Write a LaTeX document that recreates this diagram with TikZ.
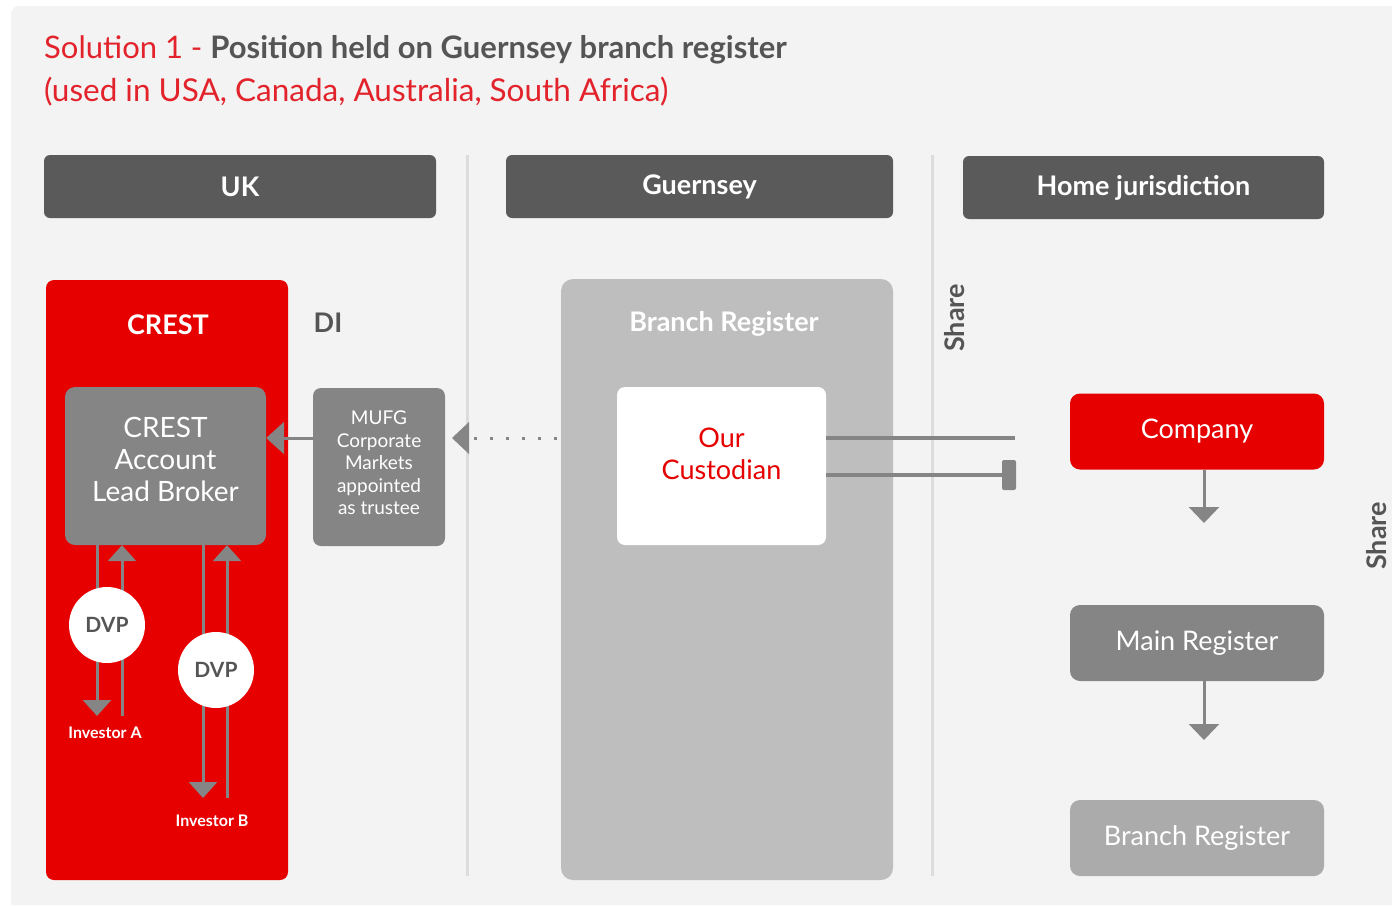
\documentclass[tikz,border=0pt]{standalone}
\usepackage{fontspec}
\setmainfont{Lato}
\usetikzlibrary{arrows.meta}
\definecolor{bgGray}{HTML}{F3F3F3}
\definecolor{sepGray}{HTML}{DCDCDC}
\definecolor{headGray}{HTML}{5A5A5A}
\definecolor{midGray}{HTML}{858585}
\definecolor{lightGray}{HTML}{BEBEBE}
\definecolor{lowGray}{HTML}{ABABAB}
\definecolor{crestRed}{HTML}{E60000}
\definecolor{titleRed}{HTML}{E3232B}
\definecolor{titleGray}{HTML}{555555}
\newcommand{\fs}[2]{\fontsize{#1pt}{#2pt}\selectfont}
\tikzset{
  headbox/.style={fill=headGray, rounded corners=6pt, text=white, font=\fs{27}{32}\bfseries},
  greybox/.style={fill=midGray, rounded corners=10pt, text=white, align=center},
  regbox/.style={rounded corners=10pt, text=white, minimum width=254pt, minimum height=76pt, font=\fs{27}{32}},
  dvpnode/.style={circle, fill=white, minimum size=76pt, inner sep=0pt, text=titleGray, font=\fs{21}{24}\bfseries},
  flowarrow/.style={draw=midGray, line width=3pt, -{Triangle[width=30pt,length=16pt]}, midGray},
  seprule/.style={draw=sepGray, line width=3pt},
  sharelabel/.style={rotate=90, text=titleGray, font=\fs{27}{32}\bfseries}
}
\begin{document}
\begin{tikzpicture}[x=1pt,y=-1pt]
\useasboundingbox (0,0) rectangle (1392,905);
% background
\fill[bgGray] (11,905) -- (11,14) arc (180:270:8) -- (1392,6) -- (1392,905) -- cycle;

% title
\node[anchor=base west, inner sep=0pt] (title) at (44,58) {\fs{31}{36}\color{titleRed}Solution 1 - \color{titleGray}\bfseries Position held on Guernsey branch register};
\node[anchor=base west, inner sep=0pt] (subtitle) at (44,101) {\fs{31.5}{36}\color{titleRed}(used in USA, Canada, Australia, South Africa)};

% column headers
\node[headbox, minimum width=392pt, minimum height=63pt] (uk) at (240,186.5) {UK};
\node[headbox, minimum width=387pt, minimum height=63pt] (guernsey) at (699.5,186.5) {Guernsey};
\node[headbox, minimum width=361pt, minimum height=63pt] (home) at (1143.5,187.5) {Home jurisdiction};

% separators
\draw[seprule] (467,155) -- (467,876);
\draw[seprule] (932,155) -- (932,876);

% UK column
\node[fill=crestRed, rounded corners=8pt, minimum width=242pt, minimum height=600pt] (crest) at (167,580) {};
\node[text=white, font=\fs{27}{32}\bfseries] (crestlabel) at (168,325) {CREST};
\node[text=titleGray, font=\fs{27}{32}\bfseries] (dilabel) at (328,323) {DI};
\node[greybox, minimum width=201pt, minimum height=158pt, text depth=14pt, font=\fs{28}{32}] (broker) at (165.5,466) {CREST\\Account\\Lead Broker};
\node[greybox, rounded corners=8pt, minimum width=132pt, minimum height=158pt, text depth=8pt, font=\fs{19}{22.5}] (mufg) at (379,467) {MUFG\\Corporate\\Markets\\appointed\\as trustee};

% Guernsey column
\node[fill=lightGray, rounded corners=12pt, minimum width=332pt, minimum height=601pt] (branch) at (727,579.5) {};
\node[text=white, font=\fs{27}{32}\bfseries] (branchlabel) at (724,324) {Branch Register};
\node[fill=white, rounded corners=8pt, minimum width=209pt, minimum height=158pt, text depth=24pt, text=crestRed, align=center, font=\fs{27}{32}] (cust) at (721.5,466) {Our\\Custodian};

% Home column
\node[regbox, fill=crestRed] (company) at (1197,431.5) {Company};
\node[regbox, fill=midGray] (mainreg) at (1197,643) {Main Register};
\node[regbox, fill=lowGray] (branchreg) at (1197,838) {Branch Register};
\node[sharelabel] (shareA) at (955,318) {Share};
\node[sharelabel] (shareB) at (1377,536) {Share};

% free ends
\coordinate (invAdown) at (97,716);
\coordinate (invAup) at (122,716);
\coordinate (invBdown) at (203,798);
\coordinate (invBup) at (227,798);
\coordinate (dotstart) at (557,438);
\coordinate (dotend) at (469,438);
\coordinate (custendA) at (1015,438);
\coordinate (custendB) at (1003,475);
\coordinate (compend) at (1204,523);
\coordinate (mainend) at (1204,740);

% connectors
\draw[flowarrow, -{Triangle[width=32pt,length=18pt]}] ([yshift=29pt]mufg.west) -- ([yshift=28pt]broker.east);
\draw[midGray, line width=3pt, dash pattern=on 3pt off 13pt] (dotstart) -- (dotend);
\fill[midGray] (452,438) -- (469,422) -- (469,454) -- cycle;
\draw[midGray, line width=3.5pt] ([yshift=28pt]cust.east) -- (custendA);
\draw[midGray, line width=3.5pt] ([yshift=-9pt]cust.east) -- (custendB);
\node[fill=midGray, rounded corners=2pt, minimum width=14pt, minimum height=30pt, inner sep=0pt] (bar) at (1009,475) {};
\draw[flowarrow] (company.south -| compend) -- (compend);
\draw[flowarrow] (mainreg.south -| mainend) -- (mainend);

\draw[flowarrow, -{Triangle[width=28pt,length=16pt]}] (broker.south -| invAdown) -- (invAdown);
\draw[flowarrow, -{Triangle[width=28pt,length=16pt]}] (invAup) -- (invAup |- broker.south);
\draw[flowarrow, -{Triangle[width=28pt,length=16pt]}] (broker.south -| invBdown) -- (invBdown);
\draw[flowarrow, -{Triangle[width=28pt,length=16pt]}] (invBup) -- (invBup |- broker.south);

\node[dvpnode] (dvpA) at (107,625) {DVP};
\node[dvpnode] (dvpB) at (216,670) {DVP};
\node[text=white, font=\fs{16}{19}\bfseries] (investorA) at (105,733) {Investor A};
\node[text=white, font=\fs{16}{19}\bfseries] (investorB) at (212,821) {Investor B};

\end{tikzpicture}
\end{document}
